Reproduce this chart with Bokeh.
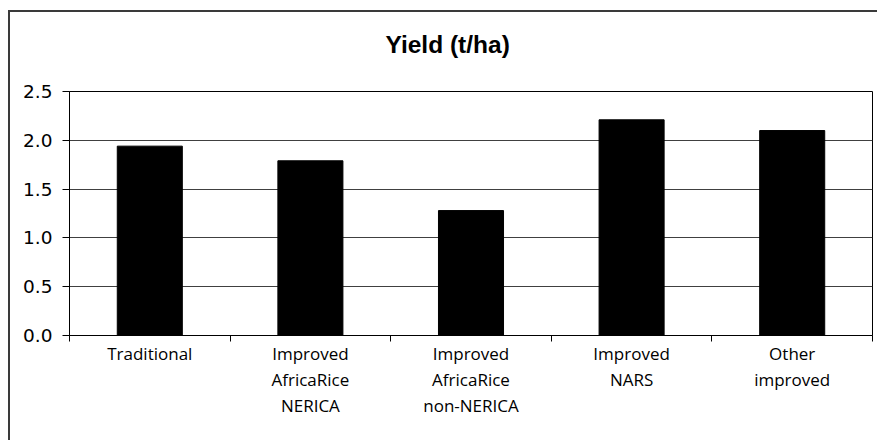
from bokeh.plotting import figure
from bokeh.models import LinearAxis, FixedTicker, Range1d, NumeralTickFormatter, ColumnDataSource
from bokeh.embed import file_html
from bokeh.resources import INLINE

# ---- data ----
categories = ["Traditional", "Improved AfricaRice NERICA", "Improved AfricaRice non-NERICA",
              "Improved NARS", "Other improved"]
label_lines = [["Traditional"],
               ["Improved", "AfricaRice", "NERICA"],
               ["Improved", "AfricaRice", "non-NERICA"],
               ["Improved", "NARS"],
               ["Other", "improved"]]
yields = [1.94, 1.79, 1.28, 2.21, 2.10]
y_ticks = [0.0, 0.5, 1.0, 1.5, 2.0, 2.5]
title_text = "Yield (t/ha)"

n = len(categories)
centers = [i + 0.5 for i in range(n)]
boundaries = list(range(n + 1))
source = ColumnDataSource(dict(x=centers, top=yields, cat=categories))

p = figure(width=869, height=430, output_backend="svg", toolbar_location=None,
           x_range=Range1d(0, n), y_range=Range1d(0, y_ticks[-1]),
           x_axis_type=None, title=title_text + "\n",
           min_border_left=59, min_border_right=7, min_border_top=79, min_border_bottom=107)
p.styles = {"margin-left": "8px", "margin-top": "10px",
            "border-top": "2px solid #3a3a3a", "border-left": "2px solid #3a3a3a"}
p.background_fill_color = "white"
p.border_fill_color = "white"
p.outline_line_color = "black"
p.outline_line_width = 1

p.title.text_font = "Liberation Sans"
p.title.text_font_style = "bold"
p.title.text_font_size = "24.5px"
p.title.text_color = "black"
p.title.align = "left"
p.title.offset = 316
p.title.standoff = 14

p.vbar(x="x", top="top", width=0.405, source=source, fill_color="black", line_color="black")

# y axis
ya = p.yaxis[0]
ya.ticker = FixedTicker(ticks=y_ticks)
ya.formatter = NumeralTickFormatter(format="0.0")
ya.major_label_text_font = "DejaVu Sans"
ya.major_label_text_font_size = "18.5px"
ya.major_label_text_color = "black"
ya.major_tick_out = 7
ya.major_tick_in = 0
ya.minor_tick_out = 0
ya.minor_tick_in = 0
ya.axis_line_color = "black"
ya.major_tick_line_color = "black"
ya.major_label_standoff = 10
p.ygrid.grid_line_color = "#404040"
p.ygrid.grid_line_width = 1

# x label lines as stacked axes; the first one carries the axis line and boundary ticks
max_lines = max(len(l) for l in label_lines)
for k in range(max_lines):
    idx = [i for i, l in enumerate(label_lines) if len(l) > k]
    ticks = [centers[i] for i in idx]
    ax = LinearAxis(ticker=FixedTicker(ticks=ticks, minor_ticks=boundaries if k == 0 else []))
    ax.major_label_overrides = {centers[i]: label_lines[i][k] for i in idx}
    ax.major_label_text_font = "Open Sans"
    ax.major_label_text_font_size = "17px"
    ax.major_label_text_color = "black"
    ax.major_label_standoff = 0
    ax.major_tick_line_color = None
    ax.major_tick_out = 0
    ax.major_tick_in = 0
    ax.minor_tick_in = 0
    if k == 0:
        ax.axis_line_color = "black"
        ax.minor_tick_line_color = "black"
        ax.minor_tick_out = 6
    else:
        ax.axis_line_color = None
        ax.minor_tick_line_color = None
        ax.minor_tick_out = 0
    p.add_layout(ax, "below")

open("out.html", "w").write(file_html(p, INLINE))
